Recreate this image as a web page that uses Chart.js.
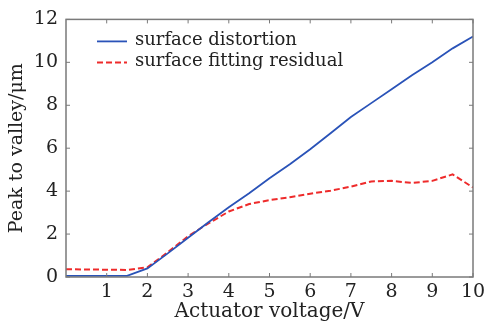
<!DOCTYPE html>
<html>
<head>
<meta charset="utf-8">
<script src="https://cdn.jsdelivr.net/npm/chart.js@4.4.1/dist/chart.umd.min.js"></script>
<style>
  html, body { margin: 0; padding: 0; background: #fff; }
  #wrap { width: 498px; height: 327px; }
</style>
</head>
<body>
<div id="wrap"><canvas id="chart" width="498" height="327"></canvas></div>
<script>
// Actuator voltage (V)
const voltages = [0, 0.5, 1, 1.5, 2, 2.5, 3, 3.5, 4, 4.5, 5, 5.5, 6, 6.5, 7, 7.5, 8, 8.5, 9, 9.5, 10];
// Peak to valley (um)
const distortion = [0.05, 0.05, 0.05, 0.05, 0.4, 1.1, 1.83, 2.55, 3.25, 3.9, 4.6, 5.25, 5.95, 6.7, 7.45, 8.1, 8.75, 9.4, 10.0, 10.65, 11.2];
const residual = [0.36, 0.35, 0.34, 0.33, 0.45, 1.15, 1.9, 2.5, 3.05, 3.4, 3.58, 3.72, 3.88, 4.02, 4.21, 4.45, 4.48, 4.38, 4.48, 4.78, 4.17];
const seriesNames = ['surface distortion', 'surface fitting residual'];
const xTicks = [1, 2, 3, 4, 5, 6, 7, 8, 9, 10];
const yTicks = [0, 2, 4, 6, 8, 10, 12];

const colors = {
  blue: '#2a53b8',
  red: '#ee2b2b',
  axis: '#7a7a7a',
  text: '#222'
};
const serif = '"DejaVu Serif", "Liberation Serif", serif';

const toPoints = ys => voltages.map((v, i) => ({ x: v, y: ys[i] }));

// Box frame, inward ticks and the in-plot legend
const framePlugin = {
  id: 'frame',
  afterDraw(chart) {
    const { ctx, chartArea: a, scales } = chart;
    ctx.save();
    ctx.strokeStyle = colors.axis;
    ctx.lineWidth = 1.5;
    ctx.strokeRect(a.left, a.top, a.right - a.left, a.bottom - a.top);

    ctx.lineWidth = 1;
    const t = 4;
    xTicks.forEach(v => {
      const px = scales.x.getPixelForValue(v);
      ctx.beginPath();
      ctx.moveTo(px, a.bottom); ctx.lineTo(px, a.bottom - t);
      ctx.moveTo(px, a.top); ctx.lineTo(px, a.top + t);
      ctx.stroke();
    });
    yTicks.forEach(v => {
      const py = scales.y.getPixelForValue(v);
      ctx.beginPath();
      ctx.moveTo(a.left, py); ctx.lineTo(a.left + t, py);
      ctx.moveTo(a.right, py); ctx.lineTo(a.right - t, py);
      ctx.stroke();
    });

    // legend
    const lx = a.left + 31, ly = a.top + 22, row = 21;
    chart.data.datasets.forEach((ds, i) => {
      const y = ly + i * row;
      ctx.strokeStyle = ds.borderColor;
      ctx.lineWidth = ds.borderWidth;
      ctx.setLineDash(ds.borderDash || []);
      ctx.beginPath();
      ctx.moveTo(lx, y); ctx.lineTo(lx + 30, y);
      ctx.stroke();
      ctx.setLineDash([]);
      ctx.fillStyle = colors.text;
      ctx.font = '18px ' + serif;
      ctx.textBaseline = 'middle';
      ctx.fillText(ds.label, lx + 38, y - 1);
    });
    ctx.restore();
  }
};

new Chart(document.getElementById('chart'), {
  type: 'line',
  data: {
    datasets: [
      {
        label: seriesNames[0],
        data: toPoints(distortion),
        borderColor: colors.blue,
        borderWidth: 1.8,
        pointRadius: 0,
        tension: 0
      },
      {
        label: seriesNames[1],
        data: toPoints(residual),
        borderColor: colors.red,
        borderWidth: 2,
        borderDash: [6, 3],
        pointRadius: 0,
        tension: 0
      }
    ]
  },
  options: {
    responsive: false,
    animation: false,
    layout: { padding: { left: 0, top: 10, right: 25, bottom: 0 } },
    plugins: {
      legend: { display: false },
      tooltip: { enabled: false }
    },
    scales: {
      x: {
        type: 'linear',
        min: 0,
        max: 10,
        afterFit: s => { s.height = 50; },
        afterBuildTicks: s => { s.ticks = xTicks.map(v => ({ value: v })); },
        grid: { display: false, drawTicks: false },
        border: { display: false },
        ticks: {
          padding: 4,
          color: colors.text,
          font: { family: serif, size: 19 }
        },
        title: {
          display: true,
          text: 'Actuator voltage/V',
          color: colors.text,
          font: { family: serif, size: 20 },
          padding: { top: 0, bottom: 3 }
        }
      },
      y: {
        min: 0,
        max: 12,
        afterFit: s => { s.width = 66; },
        afterBuildTicks: s => { s.ticks = yTicks.map(v => ({ value: v })); },
        grid: { display: false, drawTicks: false },
        border: { display: false },
        ticks: {
          padding: 8,
          color: colors.text,
          font: { family: serif, size: 19 }
        },
        title: {
          display: true,
          text: 'Peak to valley/μm',
          color: colors.text,
          font: { family: serif, size: 19 },
          padding: { top: 6, bottom: 2 }
        }
      }
    }
  },
  plugins: [framePlugin]
});
</script>
</body>
</html>
